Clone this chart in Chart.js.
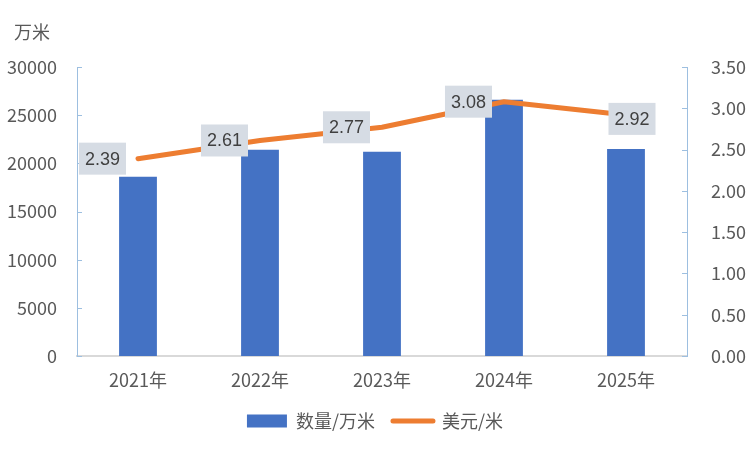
<!DOCTYPE html>
<html>
<head>
<meta charset="utf-8">
<script src="https://cdn.jsdelivr.net/npm/chart.js@4"></script>
<style>
  html, body { margin: 0; padding: 0; background: #fff; }
  #wrap { width: 750px; height: 450px; }
</style>
</head>
<body>
<div id="wrap"><canvas id="chart" width="750" height="450"></canvas></div>
<script>
const categories = ['2021年', '2022年', '2023年', '2024年', '2025年'];
const quantity = [18600, 21400, 21200, 26600, 21500];
const price = [2.39, 2.61, 2.77, 3.08, 2.92];
const leftTicks = [0, 5000, 10000, 15000, 20000, 25000, 30000];
const rightTicks = [0, 0.5, 1, 1.5, 2, 2.5, 3, 3.5];

const textColor = '#595959';
const font = { family: "'Noto Sans CJK SC', 'Liberation Sans', sans-serif", size: 18 };

// short ticks pointing into the plot, like the original
const innerTicks = {
  id: 'innerTicks',
  afterDatasetsDraw(chart) {
    const ctx = chart.ctx;
    const { y, y1 } = chart.scales;
    ctx.save();
    ctx.strokeStyle = '#9dbfe0';
    ctx.lineWidth = 1;
    leftTicks.forEach(v => {
      const py = Math.round(y.getPixelForValue(v)) + 0.5;
      ctx.beginPath(); ctx.moveTo(y.right, py); ctx.lineTo(y.right + 5, py); ctx.stroke();
    });
    rightTicks.forEach(v => {
      const py = Math.round(y1.getPixelForValue(v)) + 0.5;
      ctx.beginPath(); ctx.moveTo(y1.left - 5, py); ctx.lineTo(y1.left, py); ctx.stroke();
    });
    ctx.restore();
  }
};

// value boxes on the line
const valueLabels = {
  id: 'valueLabels',
  afterDatasetsDraw(chart) {
    const ctx = chart.ctx;
    const meta = chart.getDatasetMeta(1);
    ctx.save();
    ctx.font = "18px 'Liberation Sans', sans-serif";
    ctx.textBaseline = 'middle';
    ctx.textAlign = 'center';
    meta.data.forEach((pt, i) => {
      const txt = price[i].toFixed(2);
      const w = ctx.measureText(txt).width + 12;
      const h = 32;
      let cx, cy;
      if (i === meta.data.length - 1) { cx = pt.x + 6; cy = pt.y + 4; }
      else { cx = pt.x - 12 - w / 2; cy = pt.y; }
      ctx.fillStyle = '#d6dce4';
      ctx.fillRect(cx - w / 2, cy - h / 2, w, h);
      ctx.fillStyle = '#404040';
      ctx.fillText(txt, cx, cy + 1);
    });
    ctx.restore();
  }
};

const unitLabel = {
  id: 'unitLabel',
  afterDraw(chart) {
    const ctx = chart.ctx;
    ctx.save();
    ctx.font = "18px 'Noto Sans CJK SC', sans-serif";
    ctx.fillStyle = textColor;
    ctx.textBaseline = 'middle';
    ctx.fillText('万米', 14, 32);
    ctx.restore();
  }
};

new Chart(document.getElementById('chart'), {
  type: 'bar',
  data: {
    labels: categories,
    datasets: [
      {
        type: 'bar',
        label: '数量/万米',
        data: quantity,
        backgroundColor: '#4472c4',
        yAxisID: 'y',
        categoryPercentage: 1,
        barPercentage: 0.31,
        order: 2
      },
      {
        type: 'line',
        label: '美元/米',
        data: price,
        borderColor: '#ed7d31',
        backgroundColor: '#ed7d31',
        borderWidth: 5,
        borderCapStyle: 'round',
        borderJoinStyle: 'round',
        pointRadius: 0,
        tension: 0,
        yAxisID: 'y1',
        order: 1
      }
    ]
  },
  options: {
    responsive: false,
    animation: false,
    layout: { padding: { top: 67, left: 0, right: 0, bottom: 10 } },
    plugins: {
      tooltip: { enabled: false },
      legend: {
        position: 'bottom',
        labels: {
          color: textColor,
          font: font,
          usePointStyle: true,
          pointStyleWidth: 40,
          boxHeight: 13,
          padding: 18,
          sort: (a, b) => a.datasetIndex - b.datasetIndex,
          generateLabels(chart) {
            const items = Chart.defaults.plugins.legend.labels.generateLabels(chart);
            items.forEach(it => {
              if (it.datasetIndex === 0) { it.pointStyle = 'rect'; it.lineWidth = 0; }
              else { it.pointStyle = 'line'; it.lineWidth = 5; it.lineCap = 'round'; it.strokeStyle = '#ed7d31'; }
            });
            return items;
          }
        }
      }
    },
    scales: {
      x: {
        grid: { display: false },
        border: { display: true, color: '#d9d9d9', width: 2 },
        ticks: { color: textColor, font: font, padding: 5 },
        afterFit(s) { s.height = 38; }
      },
      y: {
        position: 'left',
        min: 0, max: 30000,
        afterBuildTicks(s) { s.ticks = leftTicks.map(v => ({ value: v })); },
        grid: { display: false },
        border: { display: true, color: '#9dbfe0', width: 1 },
        ticks: { color: textColor, font: font, padding: 12, callback: v => String(v) },
        afterFit(s) { s.width = 77; }
      },
      y1: {
        position: 'right',
        min: 0, max: 3.5,
        afterBuildTicks(s) { s.ticks = rightTicks.map(v => ({ value: v })); },
        grid: { display: false },
        border: { display: true, color: '#9dbfe0', width: 1 },
        ticks: { color: textColor, font: font, padding: 16, callback: v => Number(v).toFixed(2) },
        afterFit(s) { s.width = 63; }
      }
    }
  },
  plugins: [innerTicks, valueLabels, unitLabel]
});
</script>
</body>
</html>
